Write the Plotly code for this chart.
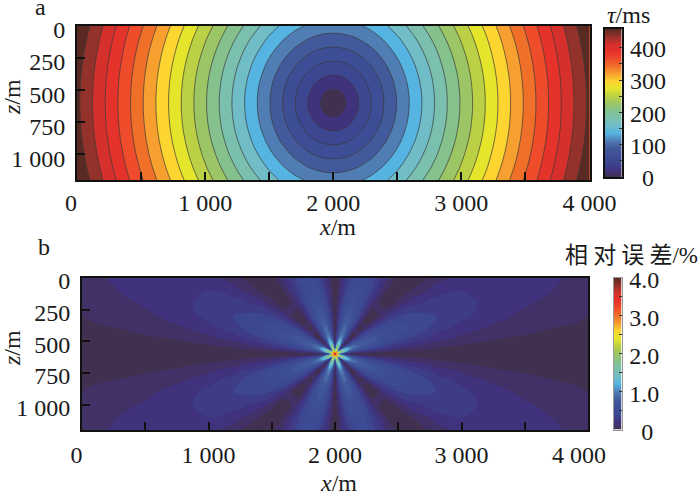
import plotly.graph_objects as go
import numpy as np

W = 700
H = 492
SERIF = 'Liberation Serif'
CJK = 'Noto Sans CJK SC'

# offsets from the source at x=2000 m, z=600 m; the field is mirrored left/right and up/down
tau_dx = [0, 50, 100, 150, 200, 300, 400, 500, 650, 800, 1000, 1200, 1400, 1600, 1800, 2000]
tau_dz = [0, 50, 100, 150, 200, 300, 400, 500, 600]
tau_quadrant = [
    [0.0, 11.1, 22.3, 33.4, 44.5, 66.8, 89.0, 111.3, 144.6, 178.0, 222.5, 267.0, 311.5, 356.0, 400.5, 445.0],
    [10.1, 15.0, 24.4, 34.9, 45.6, 67.5, 89.6, 111.7, 145.0, 178.3, 222.7, 267.2, 311.7, 356.1, 400.6, 445.1],
    [20.2, 23.1, 30.1, 39.0, 48.9, 69.7, 91.3, 113.1, 146.0, 179.1, 223.4, 267.8, 312.2, 356.6, 401.0, 445.5],
    [30.3, 32.3, 37.6, 45.1, 53.9, 73.3, 94.0, 115.3, 147.8, 180.6, 224.5, 268.7, 313.0, 357.3, 401.6, 446.0],
    [40.5, 42.0, 46.2, 52.4, 60.1, 78.1, 97.8, 118.4, 150.2, 182.5, 226.1, 270.0, 314.1, 358.3, 402.5, 446.8],
    [60.7, 61.7, 64.6, 69.3, 75.3, 90.2, 107.7, 126.7, 156.8, 188.1, 230.6, 273.8, 317.4, 361.1, 405.1, 449.1],
    [80.9, 81.7, 83.9, 87.5, 92.3, 104.9, 120.3, 137.6, 165.7, 195.5, 236.8, 279.0, 321.8, 365.1, 408.6, 452.3],
    [101.1, 101.7, 103.6, 106.5, 110.5, 121.2, 134.7, 150.3, 176.5, 204.7, 244.4, 285.3, 327.7, 370.1, 413.0, 456.3],
    [121.4, 121.9, 123.4, 125.9, 129.3, 138.5, 150.5, 164.6, 188.8, 215.4, 253.4, 293.2, 334.7, 376.1, 418.5, 461.2],
]

err_dx = [0, 10, 20, 30, 40, 50, 65, 80, 100, 125, 150, 200, 250, 300, 400, 500, 600, 800, 1000, 1250, 1500, 2000]
err_dz = [0, 10, 20, 30, 40, 50, 65, 80, 100, 125, 150, 200, 250, 300, 400, 500, 600]
err_quadrant = [
    [4.0, 3.0, 1.0, .3, .15, .1, .05, .02, 0, 0, 0, 0, 0, 0, 0, 0, 0, 0, 0, 0, 0, 0],
    [3.0, 3.0, 2.97, 2.75, 2.07, 1.47, 1.1, .74, .5, .33, .26, .18, .13, .10, .07, .05, .03, .02, .01, .01, .01, 0],
    [1.0, 2.94, 1.2, 1.57, 2.07, 1.95, 1.75, 1.3, .93, .65, .50, .35, .26, .20, .14, .09, .07, .04, .03, .02, .01, .01],
    [.3, 2.97, 1.36, .4, .86, 1.5, 1.75, 1.55, 1.2, .9, .71, .51, .38, .30, .20, .14, .11, .06, .04, .03, .02, .01],
    [.15, 2.19, 2.05, .65, .15, .50, 1.2, 1.35, 1.3, 1.05, .88, .65, .49, .39, .26, .19, .14, .09, .06, .04, .03, .02],
    [.1, 1.59, 2.09, 1.24, .37, .1, .58, .98, 1.15, 1.05, .96, .76, .60, .48, .31, .23, .17, .10, .07, .04, .03, .02],
    [.05, 1.15, 1.88, 1.75, 1.07, .43, 0, .35, .72, .89, .95, .86, .72, .59, .40, .29, .22, .13, .09, .06, .04, .03],
    [.02, .8, 1.4, 1.62, 1.33, .87, .27, 0, .32, .65, .82, .88, .80, .68, .48, .35, .27, .16, .11, .07, .05, .03],
    [0, .53, 1.0, 1.27, 1.35, 1.12, .65, .23, 0, .30, .56, .79, .80, .74, .56, .42, .32, .20, .14, .09, .07, .04],
    [0, .34, .68, .95, 1.12, 1.12, .89, .57, .22, 0, .21, .58, .73, .74, .63, .50, .38, .25, .17, .11, .08, .05],
    [0, .27, .52, .77, .93, 1.04, .98, .81, .48, .14, 0, .35, .58, .67, .65, .54, .44, .28, .20, .13, .10, .06],
    [0, .18, .37, .53, .70, .81, .95, .95, .78, .52, .26, 0, .23, .42, .58, .56, .49, .35, .25, .17, .12, .07],
    [0, .14, .27, .40, .53, .65, .76, .85, .86, .72, .53, .17, 0, .16, .42, .50, .49, .39, .29, .21, .15, .09],
    [0, .11, .21, .31, .41, .50, .62, .72, .80, .77, .66, .37, .10, 0, .25, .39, .44, .40, .33, .23, .18, .10],
    [0, .07, .14, .20, .27, .33, .42, .52, .60, .67, .68, .57, .38, .19, 0, .15, .27, .35, .33, .27, .21, .13],
    [0, .05, .10, .14, .19, .24, .31, .37, .45, .53, .57, .60, .49, .36, .11, 0, .10, .25, .30, .27, .23, .16],
    [0, .04, .07, .11, .14, .18, .23, .28, .34, .40, .46, .54, .52, .44, .23, .06, 0, .15, .23, .25, .23, .18],
]

# band colours, low to high
band_colors = [
    '#41304f', '#40327d', '#3c4691', '#3e4e96', '#425a9b', '#507db4', '#55b4e1',
    '#70bdc8', '#7bc0ae', '#84c18d', '#9cc665', '#bbd044', '#e5e52c', '#fdd530',
    '#f7a030', '#f0702a', '#ee4c2b', '#e5322b', '#d5302c', '#93322a', '#5a2a22',
]
scale = [[i / 20, c] for i, c in enumerate(band_colors)]

# colour bars are small heatmaps on their own axes
tau_bar = [0, 23, 46, 69, 92, 115, 137, 160, 183, 206, 229, 252, 275, 298, 321, 344, 366, 389, 412, 435, 458]
err_bar = [0, .2, .4, .6, .8, 1.0, 1.2, 1.4, 1.6, 1.8, 2.0, 2.2, 2.4, 2.6, 2.8, 3.0, 3.2, 3.4, 3.6, 3.8, 4.0]

x_ticks = [0, 500, 1000, 1500, 2000, 2500, 3000, 3500, 4000]
z_ticks = [0, 250, 500, 750, 1000]
z_labels = ['0', '250', '500', '750', '1 000']
tau_ticks = [0, 50, 100, 150, 200, 250, 300, 350, 400]
tau_labels = ['\u20070', '', '100', '', '200', '', '300', '', '400']
err_ticks = [0, .5, 1, 1.5, 2, 2.5, 3, 3.5, 4]
err_labels = ['\u20070', '', '1.0', '', '2.0', '', '3.0', '', '4.0']


def unfold(dx, dz, quadrant):
    q = np.array(quadrant, dtype=float)
    q = np.hstack([q[:, :0:-1], q])
    q = np.vstack([q[:0:-1, :], q])
    xs = [2000 - d for d in dx[:0:-1]] + [2000 + d for d in dx]
    zs = [600 - d for d in dz[:0:-1]] + [600 + d for d in dz]
    return xs, zs, q


fig = go.Figure()

xa, za, tau = unfold(tau_dx, tau_dz, tau_quadrant)
fig.add_trace(go.Contour(
    x=xa, y=za, z=tau, xaxis='x', yaxis='y', colorscale=scale, showscale=False,
    contours=dict(start=22, end=440, size=22, coloring='fill', showlines=True),
    line=dict(color='#3a3a3a', width=0.7, smoothing=1),
))

xb, zb, err = unfold(err_dx, err_dz, err_quadrant)
fig.add_trace(go.Contour(
    x=xb, y=zb, z=err, xaxis='x2', yaxis='y2', colorscale=scale, showscale=False,
    contours=dict(start=.1, end=4, size=.1, coloring='fill', showlines=False),
    line=dict(width=0, smoothing=1),
))

fig.add_trace(go.Heatmap(
    x=[0, 1], y=tau_bar, z=[[v, v] for v in tau_bar], xaxis='x3', yaxis='y3',
    colorscale=scale, zmin=0, zmax=458, showscale=False, zsmooth='best',
))
fig.add_trace(go.Heatmap(
    x=[0, 1], y=err_bar, z=[[v, v] for v in err_bar], xaxis='x4', yaxis='y4',
    colorscale=scale, zmin=0, zmax=4, showscale=False, zsmooth='best',
))


def x_axis(left, right, anchor, labels, standoff):
    return dict(
        domain=[left / W, right / W], range=[0, 4000], anchor=anchor, automargin=False,
        tickmode='array', tickvals=x_ticks, ticktext=labels,
        ticks='inside', ticklen=8, tickwidth=1.5, tickcolor='#111',
        showline=True, linecolor='#111', linewidth=2, mirror=True, showgrid=False, zeroline=False,
        tickfont=dict(family=SERIF, size=24, color='#1a1a1a'), ticklabelstandoff=standoff,
    )


def z_axis(top, bottom, anchor, shift, standoff):
    return dict(
        domain=[1 - bottom / H, 1 - top / H], range=[1200, 0], anchor=anchor, automargin=False,
        tickmode='array', tickvals=z_ticks, ticktext=z_labels,
        ticks='inside', ticklen=8, tickwidth=1.5, tickcolor='#111',
        showline=True, linecolor='#111', linewidth=2, mirror=True, showgrid=False, zeroline=False,
        tickfont=dict(family=SERIF, size=24, color='#1a1a1a'), ticklabelstandoff=standoff, ticklabelshift=shift,
    )


def bar_x(left, right, anchor, line, width):
    return dict(
        domain=[left / W, right / W], range=[0, 1], anchor=anchor, automargin=False,
        showticklabels=False, ticks='',
        showline=True, linecolor=line, linewidth=width, mirror=True, showgrid=False, zeroline=False,
    )


def bar_y(top, bottom, anchor, top_value, vals, text, line, width, shift):
    return dict(
        domain=[1 - bottom / H, 1 - top / H], range=[0, top_value], anchor=anchor, side='right', automargin=False,
        tickmode='array', tickvals=vals, ticktext=text,
        ticks='inside', ticklen=3, tickwidth=1, tickcolor='#333',
        showline=True, linecolor=line, linewidth=width, mirror=True, showgrid=False, zeroline=False,
        tickfont=dict(family=SERIF, size=24, color='#1a1a1a'), ticklabelstandoff=2, ticklabelshift=shift,
    )


# text sits on a hidden full-page axis pair, in page pixels
def label(x, y, text, family=SERIF, size=24, angle=0):
    return dict(
        x=x, y=y, xref='x5', yref='y5', text=text, showarrow=False,
        xanchor='center', yanchor='middle', textangle=angle,
        font=dict(family=family, size=size, color='#1a1a1a'),
    )


fig.update_layout(
    width=W,
    height=H,
    margin=dict(l=0, r=0, t=0, b=0),
    paper_bgcolor='white',
    plot_bgcolor='rgba(0,0,0,0)',
    showlegend=False,
    xaxis=x_axis(77, 589.5, 'y', ['0\u2007', '', '1 000', '', '2 000', '', '3 000', '', '4 000'], 0),
    yaxis=z_axis(26, 180, 'x', -4, 5),
    xaxis2=x_axis(82, 588, 'y2', ['0\u00a0\u2009', '', '1 000', '', '2 000', '', '3 000', '', '4 000\u2007\u00a0'], 2),
    yaxis2=z_axis(278, 430, 'x2', -3, 5),
    xaxis3=bar_x(605, 621.5, 'y3', '#111', 1.5),
    yaxis3=bar_y(29, 177, 'x3', 458, tau_ticks, tau_labels, '#111', 1.5, 1),
    xaxis4=bar_x(613.5, 621.5, 'y4', '#999', 1),
    yaxis4=bar_y(277.5, 429.5, 'x4', 4, err_ticks, err_labels, '#999', 1, 2),
    xaxis5=dict(domain=[0, 1], range=[0, W], anchor='y5', visible=False, automargin=False),
    yaxis5=dict(domain=[0, 1], range=[H, 0], anchor='x5', visible=False, automargin=False),
    annotations=[
        label(40, 7, 'a'),
        label(44, 247, 'b'),
        label(337, 227, '<i>x</i>/m'),
        label(338, 483, '<i>x</i>/m'),
        label(12, 97, '<i>z</i>/m', angle=-90),
        label(12, 348, '<i>z</i>/m', angle=-90),
        label(628, 15, '<i>τ</i>/ms'),
        label(631, 253, '相\u00a0对\u00a0误\u00a0差<span style="font-family:Liberation Serif">/%</span>', family=CJK, size=23),
    ],
)

fig.write_html("out.html", config=dict(displayModeBar=False), post_script="document.body.style.margin='0'")
